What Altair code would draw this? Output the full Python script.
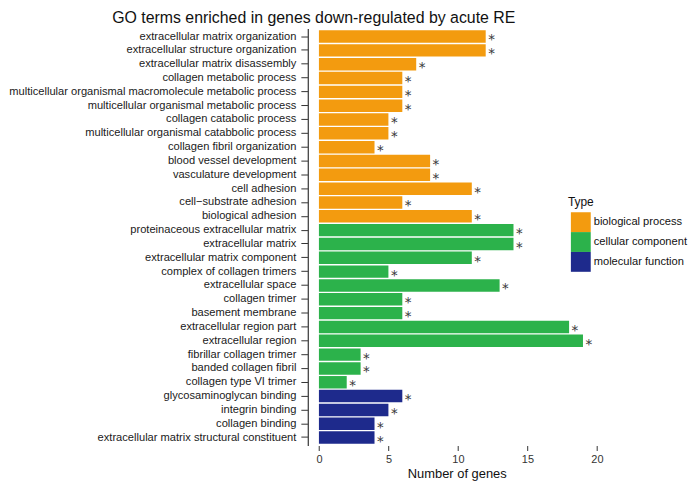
import altair as alt
import pandas as pd

terms = [
    "extracellular matrix organization",
    "extracellular structure organization",
    "extracellular matrix disassembly",
    "collagen metabolic process",
    "multicellular organismal macromolecule metabolic process",
    "multicellular organismal metabolic process",
    "collagen catabolic process",
    "multicellular organismal catabbolic process",
    "collagen fibril organization",
    "blood vessel development",
    "vasculature development",
    "cell adhesion",
    "cell\u2212substrate adhesion",
    "biological adhesion",
    "proteinaceous extracellular matrix",
    "extracellular matrix",
    "extracellular matrix component",
    "complex of collagen trimers",
    "extracellular space",
    "collagen trimer",
    "basement membrane",
    "extracellular region part",
    "extracellular region",
    "fibrillar collagen trimer",
    "banded collagen fibril",
    "collagen type VI trimer",
    "glycosaminoglycan binding",
    "integrin binding",
    "collagen binding",
    "extracellular matrix structural constituent",
]
counts = [12, 12, 7, 6, 6, 6, 5, 5, 4, 8, 8, 11, 6, 11,
          14, 14, 11, 5, 13, 6, 6, 18, 19, 3, 3, 2,
          6, 5, 4, 4]
types = (["biological process"] * 14 + ["cellular component"] * 12 +
         ["molecular function"] * 4)
type_names = ["biological process", "cellular component", "molecular function"]
type_colors = ["#F39B0F", "#2CB24B", "#1E2A8C"]
x_ticks = [0, 5, 10, 15, 20]

df = pd.DataFrame({"term": terms, "count": counts, "type": types, "star": ["*"] * len(terms)})

FONT = "Liberation Sans"

y_enc = alt.Y("term:N", sort=terms, title=None,
              scale=alt.Scale(paddingInner=0.1, paddingOuter=0.125),
              axis=alt.Axis(labelFontSize=11.2, labelColor="#1a1a1a", labelFont=FONT,
                            tickSize=7, tickColor="#333", labelPadding=5,
                            domainColor="#444", domainWidth=1.3, labelLimit=400))
x_scale = alt.Scale(domain=[-0.8, 20.63], nice=False, zero=False)

bars = alt.Chart(df).mark_bar().encode(
    x=alt.X("count:Q", scale=x_scale, title="Number of genes",
            axis=alt.Axis(values=x_ticks, grid=False, domain=False,
                          tickSize=5, tickColor="#333", labelColor="#333",
                          labelFontSize=11, labelFont=FONT, titleFont=FONT,
                          titleFontSize=13, titleFontWeight="normal",
                          titleColor="#111", labelPadding=3, titlePadding=3)),
    x2=alt.datum(0),
    y=y_enc,
    color=alt.Color("type:N", scale=alt.Scale(domain=type_names, range=type_colors),
                    legend=alt.Legend(title="Type", orient="none", legendX=262,
                                      legendY=170, symbolType="square",
                                      symbolSize=400, symbolStrokeWidth=0,
                                      symbolOpacity=1, symbolOffset=3,
                                      labelOffset=3, labelFontSize=11.2,
                                      titleFontSize=12, titleFontWeight="normal",
                                      labelFont=FONT, titleFont=FONT,
                                      titleColor="#111", labelColor="#111",
                                      rowPadding=0, titlePadding=3, padding=0)),
)

stars = alt.Chart(df).mark_text(align="left", baseline="middle", dx=2.5, dy=4,
                                fontSize=13.5, font="DejaVu Sans", color="#3a3a3a").encode(
    x=alt.X("count:Q", scale=x_scale),
    y=alt.Y("term:N", sort=terms),
    text="star:N",
)

chart = alt.layer(bars, stars).properties(
    width=300, height=420,
    title=alt.TitleParams("GO terms enriched in genes down-regulated by acute RE",
                          font=FONT, fontSize=16, fontWeight="normal",
                          color="#111", anchor="middle", frame="group",
                          dx=-144, offset=3),
    padding={"left": 0, "top": 0, "right": 5, "bottom": 0},
).configure_view(stroke=None).configure_axis(grid=False)

chart.save("out.html", embed_options={"renderer": "svg", "actions": False})
